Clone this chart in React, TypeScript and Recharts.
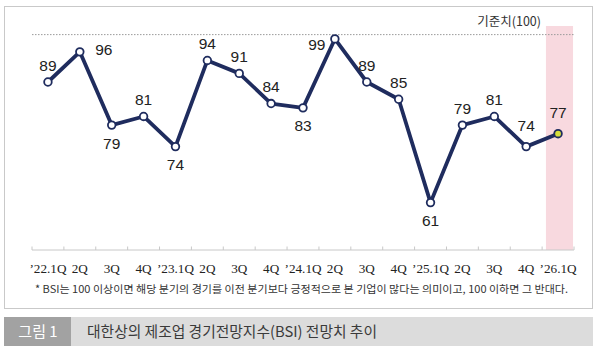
import React from 'react';
import {
  LineChart,
  Line,
  XAxis,
  YAxis,
  ReferenceLine,
  ReferenceArea,
  LabelList,
} from 'recharts';

// 대한상의 제조업 BSI 전망치 (분기별)
const QUARTERS = [
  '’22.1Q', '2Q', '3Q', '4Q',
  '’23.1Q', '2Q', '3Q', '4Q',
  '’24.1Q', '2Q', '3Q', '4Q',
  '’25.1Q', '2Q', '3Q', '4Q',
  '’26.1Q',
];
const BSI = [89, 96, 79, 81, 74, 94, 91, 84, 83, 99, 89, 85, 61, 79, 81, 74, 77];
// where each value label sits relative to its point
const LABEL_SIDE = ['t', 'r', 'b', 't', 'b', 't', 't', 't', 'b', 'l', 't', 't', 'b', 't', 't', 't', 't'];
const BASELINE = 100;

const NAVY = '#1f2c5e';
const PINK = '#f8d9df';
const HILITE = '#d6df3c';
const SANS = '"Liberation Sans", Arial, sans-serif';
const SERIF = '"Liberation Serif", "Times New Roman", serif';
const KR = '"Noto Sans CJK KR", "Noto Sans", sans-serif';

const data = QUARTERS.map((q, i) => ({ i, q, bsi: BSI[i] }));
const STEP = 542 / 17;

const ValueLabel = (props: any) => {
  const { x, y, value, index } = props;
  const side = LABEL_SIDE[index];
  let dx = 0;
  let dy = -17;
  if (side === 'b') dy = 18;
  if (side === 'r') { dx = 24; dy = -2; }
  if (side === 'l') { dx = -18; dy = 5; }
  if (index === QUARTERS.length - 1 || index === 15) dy = -21;
  return (
    <text
      x={x + dx}
      y={y + dy}
      dy="0.36em"
      textAnchor="middle"
      style={{ fontFamily: SANS, fontSize: 15.5 }}
      fill="#222"
    >
      {value}
    </text>
  );
};

const QuarterTick = (props: any) => {
  const { x, y, payload, index } = props;
  const last = index === QUARTERS.length - 1;
  return (
    <g>
      <line x1={x - STEP / 2} x2={x - STEP / 2} y1={y - 3.5} y2={y} stroke="#c8c8c8" />
      {last && <line x1={x + STEP / 2} x2={x + STEP / 2} y1={y - 3.5} y2={y} stroke="#c8c8c8" />}
      <text
        x={x}
        y={y + 23}
        textAnchor="middle"
        style={{ fontFamily: SERIF, fontSize: 13.2 }}
        fill="#222"
      >
        {QUARTERS[payload.value]}
      </text>
    </g>
  );
};

const Dot = (props: any) => {
  const { cx, cy, index } = props;
  const last = index === BSI.length - 1;
  return (
    <circle
      key={`dot-${index}`}
      cx={cx}
      cy={cy}
      r={3.8}
      fill={last ? HILITE : '#fff'}
      stroke={NAVY}
      strokeWidth={1.8}
    />
  );
};

export default function App() {
  return (
    <div
      style={{
        position: 'absolute',
        left: 0,
        top: 0,
        width: 600,
        height: 353,
        background: '#fff',
      }}
    >
      {/* frame, footnote and caption bar */}
      <svg width={600} height={353} style={{ position: 'absolute', left: 0, top: 0 }}>
        <rect x={4.5} y={6.5} width={588} height={302} fill="#fff" stroke="#c9c9c9" />
        <text
          x={35}
          y={293}
          style={{ fontFamily: KR, fontSize: 10.5 }}
          fill="#333"
          textLength={533}
          lengthAdjust="spacingAndGlyphs"
        >
          * BSI는 100 이상이면 해당 분기의 경기를 이전 분기보다 긍정적으로 본 기업이 많다는 의미이고, 100 이하면 그 반대다.
        </text>
        <rect x={4} y={317} width={589} height={29} fill="#dcdcdc" />
        <rect x={4} y={317} width={67} height={29} fill="#a2a2a2" />
        <text x={38} y={337} textAnchor="middle" style={{ fontFamily: KR, fontSize: 15 }} fill="#fff">
          그림 1
        </text>
        <text
          x={87}
          y={337}
          style={{ fontFamily: KR, fontSize: 15 }}
          fill="#3a3a3a"
          textLength={290}
          lengthAdjust="spacingAndGlyphs"
        >
          대한상의 제조업 경기전망지수(BSI) 전망치 추이
        </text>
      </svg>

      <div style={{ position: 'absolute', left: 0, top: 0 }}>
        <LineChart
          width={600}
          height={353}
          data={data}
          margin={{ top: 26, right: 26, bottom: 73, left: 32 }}
        >
          <XAxis
            dataKey="i"
            type="number"
            domain={[-0.5, 16.5]}
            ticks={data.map((d) => d.i)}
            interval={0}
            height={30}
            axisLine={{ stroke: '#c8c8c8' }}
            tickLine={false}
            tickSize={0}
            tickMargin={0}
            tick={<QuarterTick />}
          />
          <YAxis hide domain={[50, 102]} />
          <ReferenceArea x1={15.62} x2={16.47} y1={50} y2={102} fill={PINK} fillOpacity={1} stroke="none" />
          <ReferenceLine
            y={BASELINE}
            stroke="#9a9a9a"
            strokeDasharray="1.5 1.5"
            label={(p: any) => (
              <text
                x={541}
                y={p.viewBox.y - 9}
                textAnchor="end"
                style={{ fontFamily: KR, fontSize: 12.5 }}
                fill="#333"
              >
                기준치(100)
              </text>
            )}
          />
          <Line
            dataKey="bsi"
            stroke={NAVY}
            strokeWidth={3.8}
            strokeLinejoin="round"
            dot={Dot}
            activeDot={false}
            isAnimationActive={false}
          >
            <LabelList dataKey="bsi" content={<ValueLabel />} />
          </Line>
        </LineChart>
      </div>
    </div>
  );
}
